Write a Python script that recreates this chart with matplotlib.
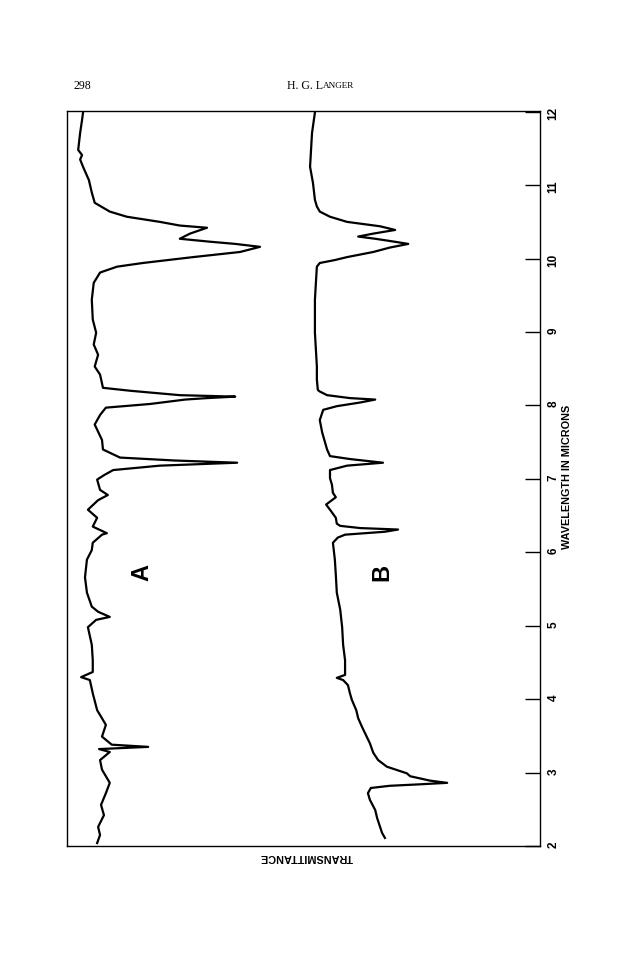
import matplotlib
matplotlib.use("Agg")
import matplotlib.pyplot as plt

# wavelength in microns and pen position
# across the chart, in % of the chart width from the left edge
a_wl = [2.04, 2.15, 2.26, 2.42, 2.56, 2.72, 2.86, 3.04, 3.17, 3.28,
        3.32, 3.35, 3.38, 3.49, 3.65, 3.85, 4.08, 4.26, 4.30, 4.37,
        4.53, 4.74, 4.98, 5.08, 5.12, 5.19, 5.26, 5.45, 5.66, 5.90,
        6.03, 6.13, 6.24, 6.26, 6.35, 6.47, 6.58, 6.71, 6.78, 6.85,
        6.99, 7.05, 7.12, 7.18, 7.22, 7.25, 7.29, 7.40, 7.53, 7.74,
        7.87, 7.97, 8.02, 8.08, 8.10, 8.12, 8.14, 8.20, 8.24, 8.42,
        8.53, 8.69, 8.83, 8.99, 9.17, 9.44, 9.67, 9.81, 9.89, 9.94,
        10.02, 10.09, 10.16, 10.20, 10.23, 10.27, 10.34, 10.42, 10.45, 10.50,
        10.57, 10.64, 10.76, 10.90, 11.07, 11.25, 11.35, 11.41, 11.48, 11.71,
        11.89, 11.99]
a_val = [5.8, 6.4, 6.0, 7.2, 6.6, 7.6, 8.4, 6.8, 6.4, 8.4,
         6.2, 16.3, 8.8, 6.8, 7.6, 5.8, 4.9, 4.3, 2.5, 4.9,
         4.9, 4.7, 3.9, 5.6, 8.4, 6.0, 4.7, 3.7, 3.3, 3.7,
         4.7, 4.9, 6.8, 7.8, 4.9, 5.8, 3.9, 6.0, 8.0, 6.4,
         5.8, 7.2, 9.1, 18.7, 34.6, 21.8, 10.5, 7.0, 6.8, 5.3,
         6.4, 7.6, 16.7, 23.9, 28.4, 34.2, 22.8, 12.6, 7.0, 6.4,
         5.3, 6.0, 5.1, 5.6, 4.9, 4.7, 5.1, 6.4, 9.9, 15.2,
         25.5, 35.2, 39.3, 34.2, 29.0, 22.8, 24.9, 28.4, 22.8, 18.7,
         11.9, 8.4, 5.3, 4.7, 4.1, 2.9, 2.3, 2.7, 1.9, 2.3,
         2.7, 2.9]

b_wl = [2.11, 2.18, 2.26, 2.38, 2.49, 2.63, 2.72, 2.79, 2.82, 2.84,
        2.86, 2.89, 2.95, 2.99, 3.08, 3.17, 3.27, 3.40, 3.51, 3.62,
        3.74, 3.85, 3.99, 4.08, 4.19, 4.26, 4.29, 4.33, 4.40, 4.53,
        4.74, 4.98, 5.22, 5.45, 5.69, 5.90, 6.13, 6.20, 6.24, 6.28,
        6.31, 6.33, 6.36, 6.39, 6.47, 6.58, 6.65, 6.69, 6.75, 6.81,
        6.92, 7.01, 7.12, 7.18, 7.22, 7.27, 7.31, 7.40, 7.63, 7.80,
        7.94, 7.99, 8.04, 8.08, 8.10, 8.14, 8.19, 8.21, 8.35, 8.53,
        8.76, 8.99, 9.23, 9.44, 9.67, 9.89, 9.94, 9.98, 10.02, 10.09,
        10.15, 10.20, 10.24, 10.27, 10.30, 10.34, 10.39, 10.44, 10.50, 10.57,
        10.64, 10.71, 10.80, 11.03, 11.25, 11.48, 11.71, 11.99]
b_val = [65.0, 64.4, 64.0, 63.4, 63.0, 61.9, 61.5, 62.1, 66.0, 72.2,
         77.8, 74.3, 70.2, 69.5, 65.4, 63.6, 62.6, 61.9, 61.1, 60.3,
         59.5, 59.1, 58.2, 57.8, 57.4, 56.4, 55.1, 56.8, 56.8, 56.8,
         56.4, 56.2, 55.8, 55.1, 54.9, 54.7, 54.3, 55.3, 56.8, 65.0,
         67.7, 59.9, 55.8, 55.1, 54.9, 53.7, 52.9, 53.7, 54.9, 54.3,
         54.1, 53.7, 53.7, 57.2, 64.6, 57.8, 53.7, 53.1, 52.1, 51.6,
         52.3, 55.1, 59.9, 63.0, 57.8, 53.1, 51.6, 51.2, 51.0, 51.0,
         50.8, 50.6, 50.6, 50.6, 50.8, 51.0, 51.6, 54.7, 57.2, 62.6,
         66.0, 69.8, 66.0, 63.0, 59.5, 62.6, 67.1, 64.0, 57.2, 53.7,
         51.6, 51.0, 50.6, 50.2, 49.6, 49.8, 50.0, 50.6]

wl_ticks = [2, 3, 4, 5, 6, 7, 8, 9, 10, 11, 12]
wl_labels = ["2", "3", "4", "5", "6", "7", "8", "9", "10", "11", "12"]

plt.rcParams['font.family'] = ['Liberation Sans', 'DejaVu Sans']

fig = plt.figure(figsize=(6.24, 9.6), dpi=100)
ax = fig.add_axes([67 / 624, 1 - 846 / 960, 473 / 624, 735 / 960])

ax.plot(a_val, a_wl, color='black', lw=1.6, solid_joinstyle='round')
ax.plot(b_val, b_wl, color='black', lw=1.6, solid_joinstyle='round')

ax.set_xlim(-0.4, 96.9)
ax.set_ylim(2.0, 12.01)
ax.set_xticks([])
ax.yaxis.tick_right()
ax.set_yticks(wl_ticks)
ax.set_yticklabels(wl_labels, fontweight='bold', fontsize=8.5)
ax.tick_params(axis='y', direction='in', length=10.8, width=1.0,
               pad=5.5, labelrotation=90)
for s in ax.spines.values():
    s.set_linewidth(1.0)

# sample labels
ax.text(15.0, 5.72, "A", rotation=90, ha='center', va='center',
        fontsize=17, fontweight='bold',
        family=['Liberation Sans Narrow', 'Liberation Sans'])
ax.text(64.4, 5.73, "B", rotation=90, ha='center', va='center',
        fontsize=17, fontweight='bold',
        family=['Liberation Sans Narrow', 'Liberation Sans'])

# axis titles, set like the printed page
fig.text(567 / 624, 1 - 477 / 960, "WAVELENGTH IN MICRONS", rotation=90,
         ha='center', va='center', fontsize=7.8, fontweight='bold')
fig.text(306 / 624, 1 - 857 / 960, "TRANSMITTANCE", rotation=180,
         ha='center', va='center', fontsize=7.8, fontweight='bold')

# page header
fig.text(74 / 624, 1 - 86 / 960, "298", ha='left', va='center',
         fontsize=8.5, family='Liberation Serif')
fig.text(323 / 624, 1 - 86 / 960, "H. G. L", ha='right', va='center',
         fontsize=8.5, family='Liberation Serif')
fig.text(323 / 624, 1 - 86.5 / 960, "ANGER", ha='left', va='center',
         fontsize=6.6, family='Liberation Serif')

fig.savefig("out.png", dpi=100)
